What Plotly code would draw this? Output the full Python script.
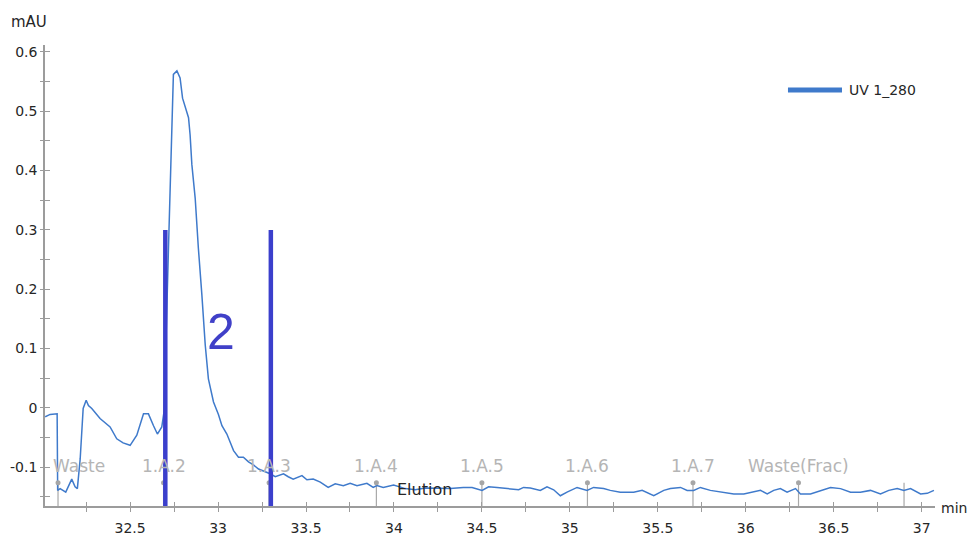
import plotly.graph_objects as go

# UV 1_280 trace (retention time in min, absorbance in mAU)
time_min = [
    32.017, 32.045, 32.085, 32.088, 32.102, 32.134, 32.168, 32.187, 32.200, 32.216,
    32.233, 32.250, 32.263, 32.282, 32.329, 32.386, 32.424, 32.460, 32.500, 32.538,
    32.576, 32.604, 32.633, 32.655, 32.680, 32.693, 32.718, 32.746, 32.766, 32.784,
    32.798, 32.832, 32.841, 32.851, 32.870, 32.879, 32.888, 32.908, 32.927, 32.945,
    32.974, 33.002, 33.022, 33.050, 33.088, 33.116, 33.144, 33.173, 33.201, 33.230,
    33.258, 33.296, 33.325, 33.372, 33.399, 33.427, 33.477, 33.505, 33.541, 33.581,
    33.626, 33.666, 33.712, 33.751, 33.790, 33.846, 33.882, 33.903, 33.939, 33.998,
    34.064, 34.121, 34.178, 34.235, 34.320, 34.394, 34.444, 34.501, 34.538, 34.586,
    34.643, 34.709, 34.737, 34.775, 34.832, 34.870, 34.908, 34.946, 34.984, 35.041,
    35.098, 35.135, 35.192, 35.230, 35.287, 35.363, 35.411, 35.477, 35.534, 35.572,
    35.629, 35.667, 35.704, 35.742, 35.799, 35.856, 35.932, 35.989, 36.045, 36.084,
    36.122, 36.159, 36.197, 36.235, 36.283, 36.311, 36.368, 36.425, 36.482, 36.539,
    36.596, 36.652, 36.709, 36.766, 36.813, 36.861, 36.899, 36.937, 36.994, 37.032,
    37.070,
]
uv_mau = [
    -0.015, -0.011, -0.010, -0.139, -0.136, -0.142, -0.120, -0.133, -0.136, -0.086,
    -0.001, 0.013, 0.004, -0.001, -0.018, -0.032, -0.052, -0.059, -0.063, -0.046,
    -0.010, -0.010, -0.030, -0.044, -0.032, -0.006, 0.269, 0.562, 0.568, 0.556,
    0.522, 0.489, 0.460, 0.410, 0.353, 0.303, 0.269, 0.190, 0.106, 0.049,
    0.010, -0.011, -0.030, -0.044, -0.072, -0.083, -0.083, -0.091, -0.096, -0.103,
    -0.106, -0.111, -0.116, -0.111, -0.116, -0.120, -0.114, -0.121, -0.120, -0.125,
    -0.134, -0.128, -0.131, -0.127, -0.131, -0.127, -0.134, -0.131, -0.134, -0.130,
    -0.136, -0.138, -0.135, -0.135, -0.136, -0.134, -0.134, -0.139, -0.133, -0.134,
    -0.136, -0.138, -0.134, -0.135, -0.139, -0.133, -0.138, -0.148, -0.142, -0.134,
    -0.139, -0.134, -0.136, -0.139, -0.142, -0.142, -0.139, -0.148, -0.139, -0.136,
    -0.134, -0.139, -0.139, -0.134, -0.139, -0.142, -0.145, -0.145, -0.142, -0.139,
    -0.145, -0.139, -0.136, -0.142, -0.136, -0.145, -0.145, -0.139, -0.134, -0.136,
    -0.142, -0.142, -0.139, -0.145, -0.139, -0.136, -0.139, -0.136, -0.145, -0.144,
    -0.139,
]

# Fraction collector events
frac_x = [32.09, 32.69, 33.29, 33.90, 34.50, 35.10, 35.70, 36.30]
frac_labels = ["Waste", "1.A.2", "1.A.3", "1.A.4", "1.A.5", "1.A.6", "1.A.7", "Waste(Frac)"]
extra_event_x = [36.90]

# Pooled fraction boundaries and its number
pool_bounds = [32.70, 33.30]
pool_top = 0.30
pool_label = "2"
pool_label_pos = (33.015, 0.128)

# Phase label
phase_label = "Elution"
phase_pos = (34.173, -0.137)

# Axis ticks
x_ticks = [32.5, 33, 33.5, 34, 34.5, 35, 35.5, 36, 36.5, 37]
x_minor = [32.25, 32.75, 33.25, 33.75, 34.25, 34.75, 35.25, 35.75, 36.25, 36.75]
y_ticks = [0.6, 0.5, 0.4, 0.3, 0.2, 0.1, 0.0, -0.1]
y_tick_text = ["0.6", "0.5", "0.4", "0.3", "0.2", "0.1", "0", "-0.1"]
y_minor = [0.55, 0.45, 0.35, 0.25, 0.15, 0.05, -0.05, -0.15]

X_RANGE = [32.016, 37.076]
Y_RANGE = [-0.1653, 0.6116]

FONT = "DejaVu Sans"
TEXT = "#262626"
AXIS_GREY = "#9c9c9c"
TRACE_BLUE = "#3f7acb"
POOL_BLUE = "#3b3fcc"
EVENT_GREY = "#b5b5b5"

EVENT_TOP = -0.126
LABEL_Y = -0.098

fig = go.Figure()

fig.add_trace(go.Scatter(
    x=time_min, y=uv_mau, mode="lines", name="UV 1_280",
    line=dict(color=TRACE_BLUE, width=1.5), showlegend=False,
))

# dots on top of the fraction event markers
fig.add_trace(go.Scatter(
    x=frac_x, y=[EVENT_TOP] * len(frac_x), mode="markers",
    marker=dict(color="#a6a6a6", size=5), showlegend=False, hoverinfo="skip",
))

# dummy trace so the overlay axes (inner tick marks) are drawn
fig.add_trace(go.Scatter(x=[None], y=[None], xaxis="x2", yaxis="y2",
                         showlegend=False, hoverinfo="skip"))

shapes = []
for xv in frac_x + extra_event_x:
    shapes.append(dict(type="line", xref="x", yref="y", x0=xv, x1=xv,
                       y0=EVENT_TOP, y1=Y_RANGE[0], layer="below",
                       line=dict(color="#a8a8a8", width=1.2)))
for xv in pool_bounds:
    shapes.append(dict(type="line", xref="x", yref="y", x0=xv, x1=xv,
                       y0=Y_RANGE[0], y1=pool_top, layer="above",
                       line=dict(color=POOL_BLUE, width=4.5)))
# legend swatch
shapes.append(dict(type="line", xref="paper", yref="paper", x0=0.8348, x1=0.8955,
                   y0=0.9024, y1=0.9024, line=dict(color=TRACE_BLUE, width=5)))

annotations = []
for xv, lab in zip(frac_x, frac_labels):
    if lab == "Waste":
        annotations.append(dict(x=xv, y=LABEL_Y, xref="x", yref="y", text=lab,
                                showarrow=False, xanchor="left", xshift=-7,
                                font=dict(family=FONT, size=17, color=EVENT_GREY)))
    else:
        annotations.append(dict(x=xv, y=LABEL_Y, xref="x", yref="y", text=lab,
                                showarrow=False, xanchor="center",
                                font=dict(family=FONT, size=17, color=EVENT_GREY)))
annotations.append(dict(x=phase_pos[0], y=phase_pos[1], xref="x", yref="y",
                        text=phase_label, showarrow=False,
                        font=dict(family=FONT, size=16, color=TEXT)))
annotations.append(dict(x=pool_label_pos[0], y=pool_label_pos[1], xref="x", yref="y",
                        text=pool_label, showarrow=False,
                        font=dict(family="Liberation Sans", size=50, color="#4040c8")))
annotations.append(dict(x=0.9011, y=0.9024, xref="paper", yref="paper",
                        text="UV 1_280", showarrow=False, xanchor="left", yanchor="middle",
                        font=dict(family=FONT, size=14, color=TEXT)))
annotations.append(dict(x=0, y=1, xref="paper", yref="paper", text="mAU",
                        showarrow=False, xanchor="left", yanchor="middle",
                        xshift=-36, yshift=23,
                        font=dict(family=FONT, size=15, color=TEXT)))
annotations.append(dict(x=1, y=0, xref="paper", yref="paper", text="min",
                        showarrow=False, xanchor="left", yanchor="middle",
                        xshift=4, yshift=-2,
                        font=dict(family=FONT, size=14, color=TEXT)))

fig.update_layout(
    width=968, height=535,
    margin=dict(l=45, r=33, t=45, b=29),
    paper_bgcolor="white", plot_bgcolor="white",
    font=dict(family=FONT, color=TEXT),
    shapes=shapes, annotations=annotations,
    xaxis=dict(
        range=X_RANGE, tickmode="array", tickvals=x_ticks,
        ticktext=[f"{v:g}" for v in x_ticks],
        ticks="outside", ticklen=4, tickwidth=1.3, tickcolor=AXIS_GREY,
        minor=dict(tickmode="array", tickvals=x_minor, ticks="outside",
                   ticklen=4, tickwidth=1.3, tickcolor=AXIS_GREY),
        showline=True, linecolor=AXIS_GREY, linewidth=1.6,
        showgrid=False, zeroline=False, automargin=False,
        ticklabelstandoff=4,
        tickfont=dict(family=FONT, size=14, color=TEXT),
    ),
    yaxis=dict(
        range=Y_RANGE, tickmode="array", tickvals=y_ticks, ticktext=y_tick_text,
        ticks="outside", ticklen=3, tickwidth=1.3, tickcolor=AXIS_GREY,
        minor=dict(tickmode="array", tickvals=y_minor, ticks="outside",
                   ticklen=3, tickwidth=1.3, tickcolor=AXIS_GREY),
        showline=True, linecolor=AXIS_GREY, linewidth=1.6,
        showgrid=False, zeroline=False, automargin=False,
        tickfont=dict(family=FONT, size=14, color=TEXT),
    ),
    xaxis2=dict(
        range=X_RANGE, overlaying="x", anchor="y2", side="bottom",
        tickmode="array", tickvals=x_ticks, showticklabels=False,
        ticks="inside", ticklen=4, tickwidth=1.3, tickcolor=AXIS_GREY,
        minor=dict(tickmode="array", tickvals=x_minor, ticks="inside",
                   ticklen=4, tickwidth=1.3, tickcolor=AXIS_GREY),
        showline=False, showgrid=False, zeroline=False,
    ),
    yaxis2=dict(
        range=Y_RANGE, overlaying="y", anchor="x2", side="left",
        tickmode="array", tickvals=y_ticks, showticklabels=False,
        ticks="inside", ticklen=5, tickwidth=1.3, tickcolor=AXIS_GREY,
        minor=dict(tickmode="array", tickvals=y_minor, ticks="inside",
                   ticklen=5, tickwidth=1.3, tickcolor=AXIS_GREY),
        showline=False, showgrid=False, zeroline=False,
    ),
)

fig.write_html("out.html")
